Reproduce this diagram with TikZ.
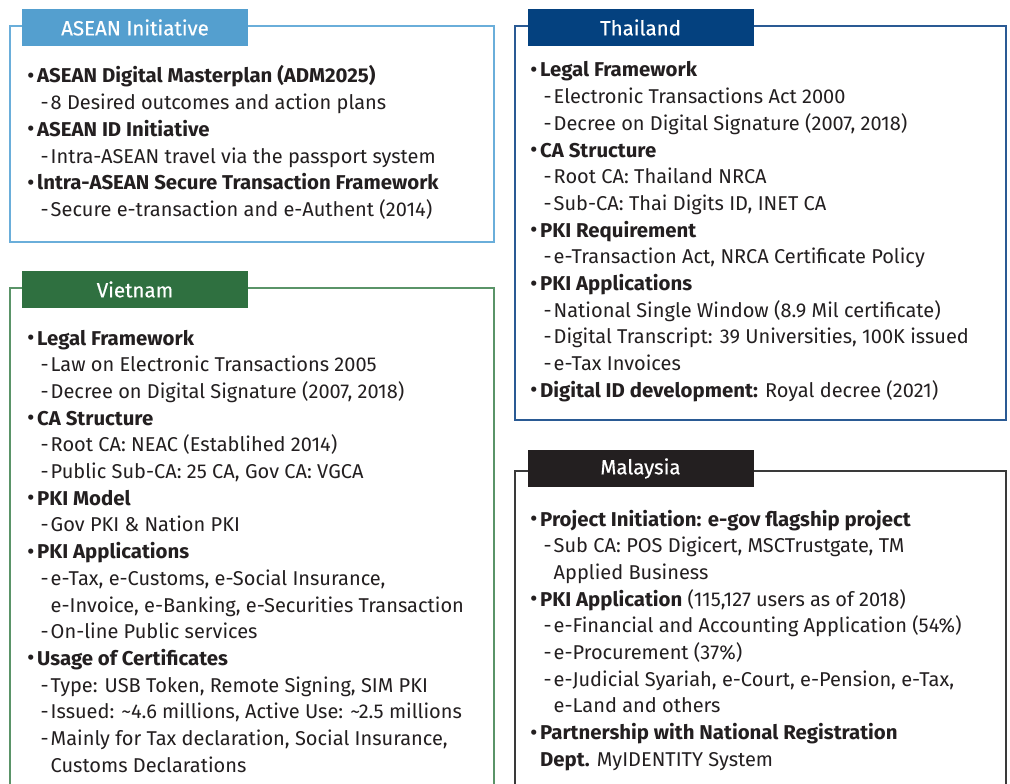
\documentclass[tikz,border=0pt]{standalone}
\usepackage{fontspec}
\setmainfont{Fira Sans}[BoldFeatures={FakeStretch=1.02}]
\newfontfamily\tabfont{Fira Sans}[FakeBold=0.4]
\definecolor{ink}{HTML}{231F20}
\definecolor{aseanTabC}{HTML}{549FCF}
\definecolor{aseanLineC}{HTML}{6AAEDA}
\definecolor{thaiTabC}{HTML}{04417F}
\definecolor{thaiLineC}{HTML}{2A5A94}
\definecolor{vietTabC}{HTML}{2F7040}
\definecolor{vietLineC}{HTML}{5A9468}
\definecolor{malTabC}{HTML}{231F20}
\definecolor{malLineC}{HTML}{3A3A3A}
% list line helpers
\newcommand\bul{\makebox[10pt][l]{\raisebox{-0.5pt}{\fontsize{23}{0}\selectfont •}}}
\newcommand\itm[2]{\bul\textbf{#1}#2\par}
\newcommand\subl[1]{\hspace*{13.5pt}\makebox[10pt][l]{-}#1\par}
\newcommand\cnt[1]{\hspace*{23.5pt}#1\par}
\newcommand\bcnt[1]{\hspace*{10pt}#1\par}
\newcommand\bodytext[1]{{\fontsize{20}{26.7}\selectfont\color{ink}%
  \parbox[t]{470pt}{\raggedright #1}}}
\tikzset{
  tab/.style={minimum width=226pt, minimum height=37pt, inner sep=0pt, text=white,
              font=\tabfont\fontsize{20.5}{22}\selectfont},
  frame/.style={line width=1.3pt},
  body/.style={anchor=base west, inner sep=0pt}
}
\begin{document}
\begin{tikzpicture}[x=1pt,y=-1pt]
\useasboundingbox[fill=white] (0,0) rectangle (1010,784);

% ASEAN
\draw[frame, aseanLineC] (10,26) rectangle (494,242);
\node[tab, fill=aseanTabC] (aseanTab) at (135,27.5) {ASEAN Initiative};
\node[body] (aseanBody) at (27,83) {\bodytext{%
\itm{ASEAN Digital Masterplan (ADM2025)}{}
\subl{8 Desired outcomes and action plans}
\itm{ASEAN ID Initiative}{}
\subl{Intra-ASEAN travel via the passport system}
\itm{lntra-ASEAN Secure Transaction Framework}{}
\subl{Secure e-transaction and e-Authent (2014)}}};

% Thailand
\draw[frame, thaiLineC] (515,26) rectangle (1006,420);
\node[tab, fill=thaiTabC] (thaiTab) at (640.5,27.5) {Thailand};
\node[body] (thaiBody) at (530,77) {\bodytext{%
\itm{Legal Framework}{}
\subl{Electronic Transactions Act 2000}
\subl{Decree on Digital Signature (2007, 2018)}
\itm{CA Structure}{}
\subl{Root CA: Thailand NRCA}
\subl{Sub-CA: Thai Digits ID, INET CA}
\itm{PKI Requirement}{}
\subl{e-Transaction Act, NRCA Certificate Policy}
\itm{PKI Applications}{}
\subl{National Single Window (8.9 Mil certificate)}
\subl{Digital Transcript: 39 Universities, 100K issued}
\subl{e-Tax Invoices}
\itm{Digital ID development:}{ Royal decree (2021)}}};

% Vietnam
\draw[frame, vietLineC] (10,800) -- (10,288) -- (494,288) -- (494,800);
\node[tab, fill=vietTabC] (vietTab) at (135,289.5) {Vietnam};
\node[body] (vietBody) at (27,345) {\bodytext{%
\itm{Legal Framework}{}
\subl{Law on Electronic Transactions 2005}
\subl{Decree on Digital Signature (2007, 2018)}
\itm{CA Structure}{}
\subl{Root CA: NEAC (Establihed 2014)}
\subl{Public Sub-CA: 25 CA, Gov CA: VGCA}
\itm{PKI Model}{}
\subl{Gov PKI \& Nation PKI}
\itm{PKI Applications}{}
\subl{e-Tax, e-Customs, e-Social Insurance,}
\cnt{e-Invoice, e-Banking, e-Securities Transaction}
\subl{On-line Public services}
\itm{Usage of Certificates}{}
\subl{Type: USB Token, Remote Signing, SIM PKI}
\subl{Issued: \textasciitilde4.6 millions, Active Use: \textasciitilde2.5 millions}
\subl{Mainly for Tax declaration, Social Insurance,}
\cnt{Customs Declarations}}};

% Malaysia
\draw[frame, malLineC] (515,800) -- (515,471) -- (1006,471) -- (1006,800);
\node[tab, fill=malTabC] (malTab) at (640.5,468.5) {Malaysia};
\node[body] (malBody) at (530,526) {\bodytext{%
\itm{Project Initiation: e-gov flagship project}{}
\subl{Sub CA: POS Digicert, MSCTrustgate, TM}
\cnt{Applied Business}
\itm{PKI Application}{ (115,127 users as of 2018)}
\subl{e-Financial and Accounting Application (54\%)}
\subl{e-Procurement (37\%)}
\subl{e-Judicial Syariah, e-Court, e-Pension, e-Tax,}
\cnt{e-Land and others}
\itm{Partnership with National Registration}{}
\bcnt{\textbf{Dept.} MyIDENTITY System}}};
\end{tikzpicture}
\end{document}
